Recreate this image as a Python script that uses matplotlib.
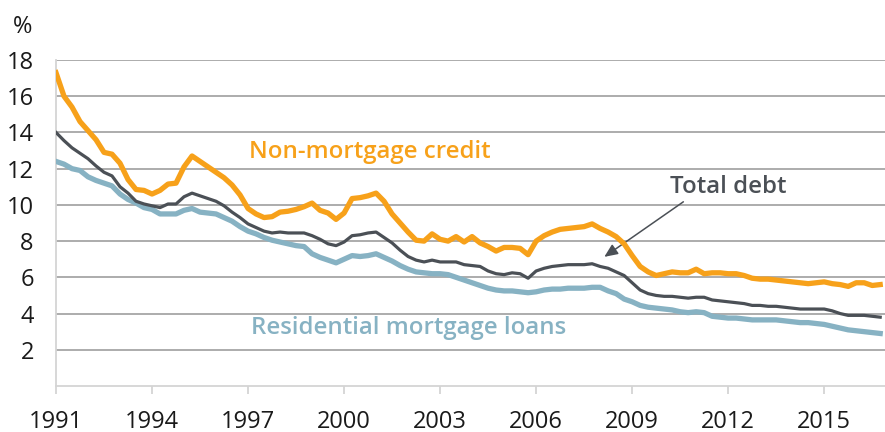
import numpy as np
import matplotlib
matplotlib.use("Agg")
import matplotlib.pyplot as plt

plt.rcParams['font.family'] = ['Open Sans', 'DejaVu Sans']

# quarterly, starting 1991 Q1
non_mortgage = [
    17.3, 16.0, 15.4, 14.6, 14.1, 13.6, 12.9, 12.8, 12.3, 11.4,
    10.85, 10.8, 10.6, 10.8, 11.15, 11.2, 12.1, 12.7, 12.4, 12.1,
    11.8, 11.5, 11.1, 10.55, 9.8, 9.5, 9.3, 9.35, 9.6, 9.65,
    9.75, 9.9, 10.1, 9.7, 9.55, 9.2, 9.55, 10.35, 10.4, 10.5,
    10.65, 10.2, 9.5, 9.0, 8.5, 8.05, 8.0, 8.4, 8.1, 8.0,
    8.25, 7.95, 8.25, 7.9, 7.7, 7.45, 7.65, 7.65, 7.6, 7.25,
    8.0, 8.3, 8.5, 8.65, 8.7, 8.75, 8.8, 8.95, 8.7, 8.5,
    8.25, 7.85, 7.2, 6.6, 6.3, 6.1, 6.2, 6.3, 6.25, 6.25,
    6.45, 6.2, 6.25, 6.25, 6.2, 6.2, 6.1, 5.95, 5.9, 5.9,
    5.85, 5.8, 5.75, 5.7, 5.65, 5.7, 5.75, 5.65, 5.6, 5.5,
    5.7, 5.7, 5.55, 5.6,
]
total_debt = [
    14.0, 13.55, 13.15, 12.85, 12.55, 12.15, 11.8, 11.6, 11.0, 10.65,
    10.2, 10.05, 9.95, 9.85, 10.05, 10.05, 10.45, 10.65, 10.5, 10.35,
    10.2, 9.95, 9.6, 9.3, 8.95, 8.75, 8.55, 8.45, 8.5, 8.45,
    8.45, 8.45, 8.3, 8.1, 7.85, 7.75, 7.95, 8.3, 8.35, 8.45,
    8.5, 8.2, 7.9, 7.5, 7.15, 6.95, 6.85, 6.95, 6.85, 6.85,
    6.85, 6.7, 6.65, 6.6, 6.35, 6.2, 6.15, 6.25, 6.2, 5.95,
    6.35, 6.5, 6.6, 6.65, 6.7, 6.7, 6.7, 6.75, 6.6, 6.5,
    6.3, 6.1, 5.7, 5.3, 5.1, 5.0, 4.95, 4.95, 4.9, 4.85,
    4.9, 4.9, 4.75, 4.7, 4.65, 4.6, 4.55, 4.45, 4.45, 4.4,
    4.4, 4.35, 4.3, 4.25, 4.25, 4.25, 4.25, 4.15, 4.0, 3.9,
    3.9, 3.9, 3.85, 3.8,
]
residential = [
    12.4, 12.25, 12.0, 11.9, 11.55, 11.35, 11.2, 11.05, 10.6, 10.3,
    10.1, 9.85, 9.75, 9.5, 9.5, 9.5, 9.7, 9.8, 9.6, 9.55,
    9.5, 9.3, 9.1, 8.8, 8.55, 8.4, 8.2, 8.05, 7.95, 7.85,
    7.75, 7.7, 7.3, 7.1, 6.95, 6.8, 7.0, 7.2, 7.15, 7.2,
    7.3, 7.1, 6.9, 6.65, 6.45, 6.3, 6.25, 6.2, 6.2, 6.15,
    6.0, 5.85, 5.7, 5.55, 5.4, 5.3, 5.25, 5.25, 5.2, 5.15,
    5.2, 5.3, 5.35, 5.35, 5.4, 5.4, 5.4, 5.45, 5.45, 5.25,
    5.1, 4.8, 4.65, 4.45, 4.35, 4.3, 4.25, 4.2, 4.1, 4.05,
    4.1, 4.05, 3.85, 3.8, 3.75, 3.75, 3.7, 3.65, 3.65, 3.65,
    3.65, 3.6, 3.55, 3.5, 3.5, 3.45, 3.4, 3.3, 3.2, 3.1,
    3.05, 3.0, 2.95, 2.9,
]
x_ticks = [1991, 1994, 1997, 2000, 2003, 2006, 2009, 2012, 2015]
y_ticks = [2, 4, 6, 8, 10, 12, 14, 16, 18]

years = 1991 + np.arange(len(non_mortgage)) / 4

orange = '#f7a11a'
dark = '#4b5056'
blue = '#87b2c3'

fig = plt.figure(figsize=(8.85, 4.32), dpi=100)
ax = fig.add_axes([56 / 885, 46 / 432, 829 / 885, 326 / 432])

ax.plot(years, residential, color=blue, lw=3.8, solid_joinstyle='round', zorder=3)
ax.plot(years, total_debt, color=dark, lw=2.3, solid_joinstyle='round', zorder=4)
ax.plot(years, non_mortgage, color=orange, lw=3.8, solid_joinstyle='round', zorder=5)

ax.set_xlim(1991, 1991 + 103.6 / 4)
ax.set_ylim(0, 18)
ax.set_xticks(x_ticks)
ax.set_xticklabels([str(t) for t in x_ticks])
ax.set_yticks(y_ticks)
ax.grid(axis='y', color='#a6a6a6', lw=1.3, zorder=1)
ax.set_axisbelow(True)

for s in ['top', 'right']:
    ax.spines[s].set_visible(False)
ax.spines['left'].set_color('#d4d4d4')
ax.spines['bottom'].set_color('#d4d4d4')
ax.spines['left'].set_linewidth(1.3)
ax.spines['bottom'].set_linewidth(1.3)
ax.tick_params(axis='x', length=6, width=1.3, color='#d4d4d4', pad=11,
               labelsize=17, labelcolor='#1a1a1a')
ax.tick_params(axis='y', length=0, pad=16, labelsize=17, labelcolor='#1a1a1a')

fig.text(13 / 885, 1 - 27 / 432, '%', fontsize=17, va='center', ha='left', color='#1a1a1a')

ax.text(1997.03, 12.93, 'Non-mortgage credit', color=orange, fontsize=17.3,
        fontweight='semibold', va='center', ha='left')
ax.text(1997.1, 3.2, 'Residential mortgage loans', color=blue, fontsize=17.3,
        fontweight='semibold', va='center', ha='left')
ax.text(2010.19, 11.0, 'Total debt', color=dark, fontsize=17.3,
        fontweight='semibold', va='center', ha='left')
ax.annotate('', xy=(2008.13, 7.13), xytext=(2010.6, 10.17),
            arrowprops=dict(arrowstyle='-|>,head_length=0.8,head_width=0.35',
                            color=dark, lw=1.1, shrinkA=0, shrinkB=0))

fig.savefig('out.png', dpi=100)
